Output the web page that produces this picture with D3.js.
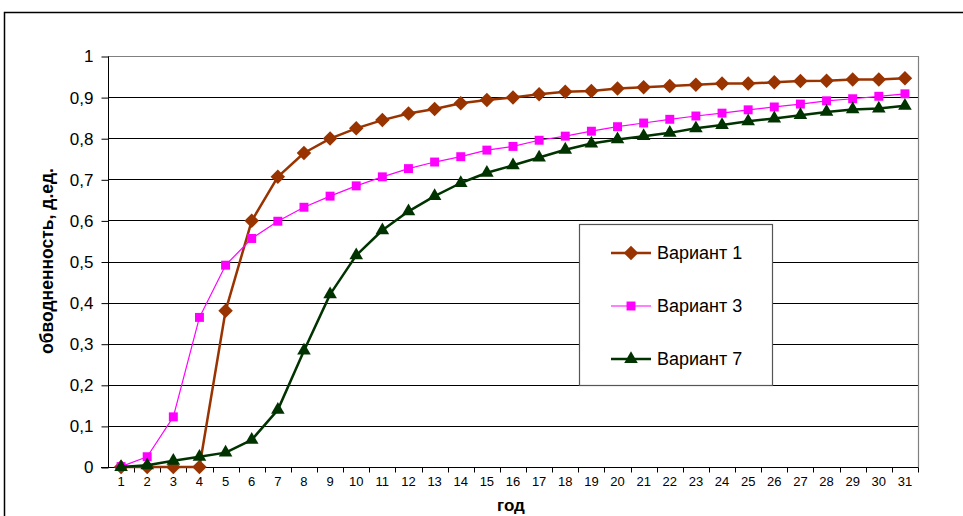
<!DOCTYPE html>
<html>
<head>
<meta charset="utf-8">
<script src="https://cdn.jsdelivr.net/npm/d3@7"></script>
<style>
  html, body { margin: 0; padding: 0; background: #fff; }
  svg { display: block; font-family: "Liberation Sans", Arial, sans-serif; }
</style>
</head>
<body>
<svg id="chart" width="963" height="516"></svg>
<script>
// Years on the horizontal axis
const years = d3.range(1, 32);

// Water cut (fraction) for each development variant
const variant1 = [0, 0, 0, 0, 0.380, 0.599, 0.706, 0.764, 0.799, 0.824, 0.844, 0.860, 0.871, 0.885, 0.893,
  0.899, 0.907, 0.913, 0.915, 0.921, 0.924, 0.927, 0.930, 0.933, 0.933, 0.936, 0.939, 0.940, 0.943, 0.943, 0.946];
const variant3 = [0.001, 0.025, 0.122, 0.364, 0.491, 0.556, 0.598, 0.632, 0.659, 0.684, 0.706, 0.726, 0.742, 0.755, 0.771,
  0.780, 0.795, 0.805, 0.817, 0.828, 0.837, 0.846, 0.854, 0.861, 0.869, 0.876, 0.883, 0.891, 0.896, 0.902, 0.908];
const variant7 = [0, 0.004, 0.015, 0.025, 0.035, 0.066, 0.139, 0.283, 0.420, 0.515, 0.576, 0.622, 0.659, 0.691, 0.716,
  0.734, 0.753, 0.772, 0.787, 0.797, 0.805, 0.813, 0.824, 0.832, 0.841, 0.848, 0.856, 0.864, 0.870, 0.872, 0.879];

const yTicks = [0, 0.1, 0.2, 0.3, 0.4, 0.5, 0.6, 0.7, 0.8, 0.9, 1];
const seriesNames = ["Вариант 1", "Вариант 3", "Вариант 7"];
const yTitle = "обводненность, д.ед.";
const xTitle = "год";

// Square diamond: a square turned by 45 degrees
const diamondMarker = {
  draw(context, size) {
    const r = Math.sqrt(size / 2);
    context.moveTo(0, -r);
    context.lineTo(r, 0);
    context.lineTo(0, r);
    context.lineTo(-r, 0);
    context.closePath();
  }
};

const series = [
  { name: seriesNames[0], values: variant1, color: "#993300", width: 2.5, symbol: diamondMarker, size: 105 },
  { name: seriesNames[1], values: variant3, color: "#FF00FF", width: 1.2, symbol: d3.symbolSquare, size: 80 },
  { name: seriesNames[2], values: variant7, color: "#003300", width: 2.5, symbol: d3.symbolTriangle, size: 80 }
];

const svg = d3.select("#chart");

// Chart frame
svg.append("path")
  .attr("d", "M4.5,520 V12.5 H970")
  .attr("fill", "none").attr("stroke", "#000").attr("stroke-width", 1.5);

const plot = { left: 108, right: 918, top: 56, bottom: 467 };

const x = d3.scaleBand().domain(years).range([plot.left, plot.right]);
const y = d3.scaleLinear().domain([0, 1]).range([plot.bottom, plot.top]);

// Horizontal gridlines
svg.append("g")
  .selectAll("line")
  .data(yTicks.filter(d => d > 0 && d < 1))
  .join("line")
  .attr("x1", plot.left).attr("x2", plot.right)
  .attr("y1", d => Math.round(y(d)) + 0.5).attr("y2", d => Math.round(y(d)) + 0.5)
  .attr("stroke", "#000").attr("stroke-width", 1);

// Plot area top and right edges
svg.append("path")
  .attr("d", `M${plot.left},${plot.top + 0.5} H${plot.right + 0.5} V${plot.bottom}`)
  .attr("fill", "none").attr("stroke", "#808080").attr("stroke-width", 1.2);

// Y axis
const yAxis = svg.append("g")
  .attr("transform", `translate(${plot.left + 0.5},0.5)`)
  .call(d3.axisLeft(y).tickValues(yTicks).tickSize(7).tickPadding(8)
    .tickFormat(d => d3.format(".1~f")(d).replace(".", ",")));
yAxis.select(".domain").attr("d", `M0,${plot.top} V${plot.bottom}`).attr("stroke", "#000");
yAxis.selectAll(".tick line").attr("stroke", "#000");
yAxis.selectAll(".tick text").attr("font-size", 17).attr("fill", "#000")
  .attr("font-family", "Liberation Sans, Arial, sans-serif");

// X axis: ticks fall on category boundaries
const xAxis = svg.append("g")
  .attr("transform", `translate(0,${plot.bottom + 0.5})`)
  .call(d3.axisBottom(x).tickSize(0).tickPadding(9));
xAxis.select(".domain").attr("d", `M${plot.left - 7},0 H${plot.right + 0.5}`).attr("stroke", "#000");
xAxis.selectAll(".tick text").attr("font-size", 13).attr("fill", "#000")
  .attr("font-family", "Liberation Sans, Arial, sans-serif");
xAxis.append("g")
  .selectAll("line")
  .data(years.map(d => x(d)).concat([plot.right]).slice(1))
  .join("line")
  .attr("x1", d => Math.round(d) + 0.5).attr("x2", d => Math.round(d) + 0.5)
  .attr("y1", 0).attr("y2", 5)
  .attr("stroke", "#000");

// Axis titles
svg.append("text")
  .attr("x", 511).attr("y", 511)
  .attr("text-anchor", "middle")
  .attr("font-size", 17).attr("font-weight", "bold")
  .text(xTitle);

svg.append("text")
  .attr("transform", "translate(53,261) rotate(-90)")
  .attr("text-anchor", "middle")
  .attr("font-size", 17.5).attr("font-weight", "bold")
  .text(yTitle);

// Series lines and markers
const line = d3.line()
  .x((d, i) => x(years[i]) + x.bandwidth() / 2)
  .y(d => y(d));

series.forEach(s => {
  const g = svg.append("g");
  g.append("path")
    .datum(s.values)
    .attr("d", line)
    .attr("fill", "none")
    .attr("stroke", s.color)
    .attr("stroke-width", s.width)
    .attr("stroke-linejoin", "round");
  g.selectAll("path.marker")
    .data(s.values)
    .join("path")
    .attr("class", "marker")
    .attr("d", d3.symbol().type(s.symbol).size(s.size))
    .attr("transform", (d, i) => `translate(${x(years[i]) + x.bandwidth() / 2},${y(d)})`)
    .attr("fill", s.color);
});

// Legend
const legend = svg.append("g");
legend.append("rect")
  .attr("x", 579.5).attr("y", 224.5).attr("width", 193).attr("height", 161)
  .attr("fill", "#fff").attr("stroke", "#555").attr("stroke-width", 1.2);

const legendY = d3.scalePoint().domain(seriesNames).range([253, 359]);
series.forEach(s => {
  const yy = legendY(s.name);
  legend.append("line")
    .attr("x1", 611).attr("x2", 651).attr("y1", yy).attr("y2", yy)
    .attr("stroke", s.color).attr("stroke-width", s.width);
  legend.append("path")
    .attr("d", d3.symbol().type(s.symbol).size(s.size))
    .attr("transform", `translate(631,${yy})`)
    .attr("fill", s.color);
  legend.append("text")
    .attr("x", 657).attr("y", yy).attr("dy", "0.36em")
    .attr("font-size", 18)
    .text(s.name);
});
</script>
</body>
</html>
